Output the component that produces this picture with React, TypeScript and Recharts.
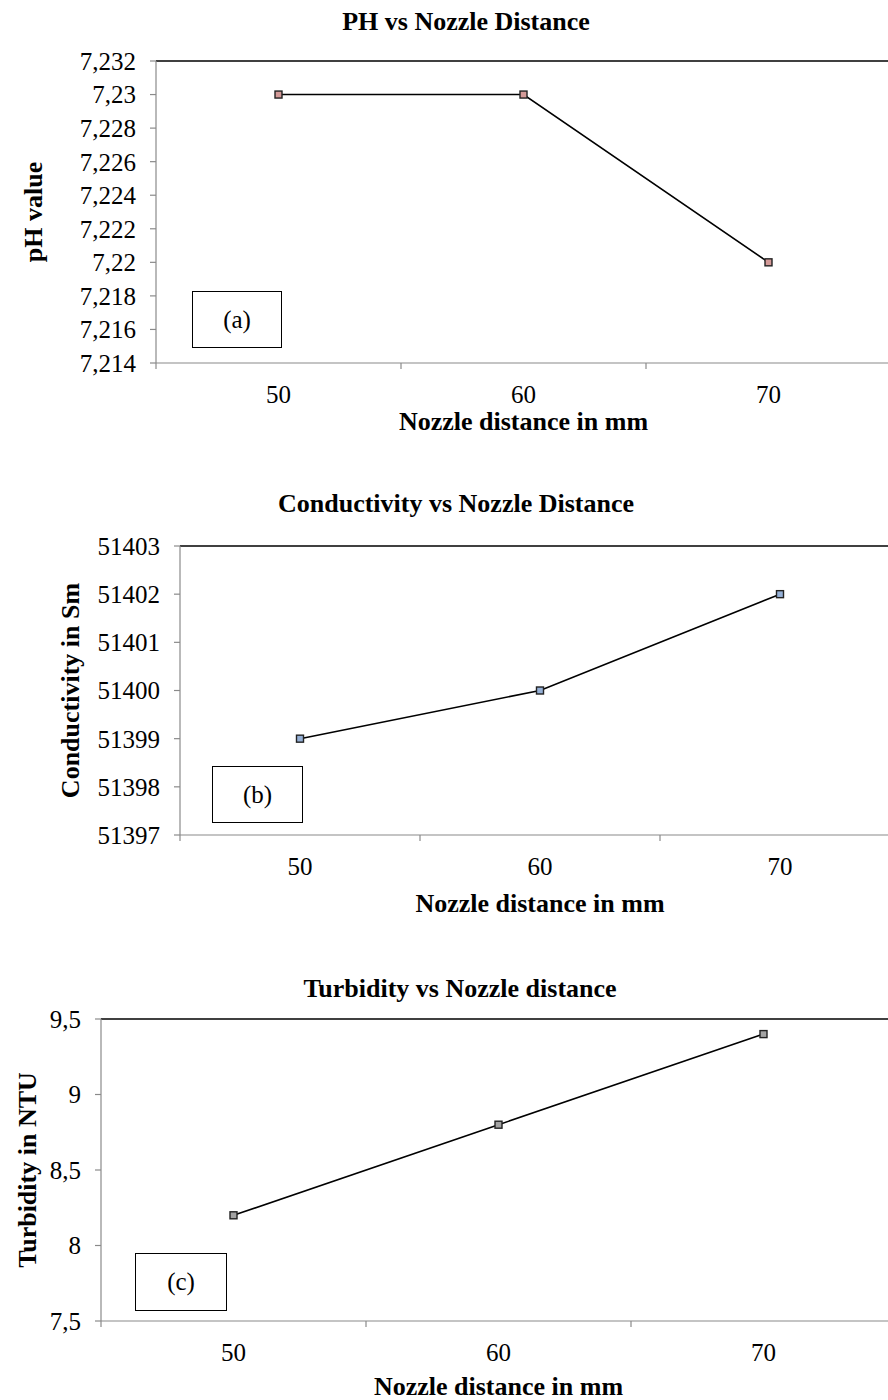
import { LineChart, Line, XAxis, YAxis, ReferenceLine, Label } from "recharts";

// values
const distances = [50, 60, 70];
const phValues = [7.23, 7.23, 7.22];
const conductivityValues = [51399, 51400, 51402];
const turbidityValues = [8.2, 8.8, 9.4];

const phTicks = [7.214, 7.216, 7.218, 7.22, 7.222, 7.224, 7.226, 7.228, 7.23, 7.232];
const conductivityTicks = [51397, 51398, 51399, 51400, 51401, 51402, 51403];
const turbidityTicks = [7.5, 8, 8.5, 9, 9.5];

// category boundaries (tick marks sit between the categories, Excel style)
const xBoundaries = [45, 55, 65, 75];
const xTicks = [...xBoundaries, ...distances].sort((a, b) => a - b);

const FONT = '"Liberation Serif", "Times New Roman", serif';
const AXIS = "#8a8a8a";

const fmt = (v: number) => String(Number(v.toFixed(3))).replace(".", ",");

function XTick(props: any) {
  const { x, y, payload } = props;
  const v = payload.value;
  if (xBoundaries.includes(v)) {
    return <line x1={x} x2={x} y1={y} y2={y + 6} stroke={AXIS} strokeWidth={1.2} />;
  }
  return (
    <text x={x} y={y + 40} textAnchor="middle" style={{ fontFamily: FONT, fontSize: 25 }} fill="#000">
      {v}
    </text>
  );
}

const squareDot = (fill: string) => (props: any) => {
  const { cx, cy, index } = props;
  return (
    <rect
      key={index}
      x={cx - 3.5}
      y={cy - 3.5}
      width={7}
      height={7}
      fill={fill}
      stroke="#222"
      strokeWidth={1.4}
    />
  );
};

interface PanelProps {
  values: number[];
  yTicks: number[];
  color: string;
  title: string;
  titleTop: number;
  titleCenter: number;
  yTitle: string;
  yTitleX: number;
  xTitleDy: number;
  top: number;
  height: number;
  marginTop: number;
  marginRight: number;
  yAxisWidth: number;
  xAxisHeight: number;
  tag: string;
  box: { left: number; top: number; width: number; height: number };
}

function Panel(p: PanelProps) {
  const data = distances.map((d, i) => ({ distance: d, value: p.values[i] }));
  const yMin = p.yTicks[0];
  const yMax = p.yTicks[p.yTicks.length - 1];
  return (
    <>
      <div
        style={{
          position: "absolute",
          left: p.titleCenter - 300,
          width: 600,
          top: p.titleTop,
          textAlign: "center",
          fontFamily: FONT,
          fontWeight: "bold",
          fontSize: 26,
          lineHeight: "26px",
          whiteSpace: "nowrap",
        }}
      >
        {p.title}
      </div>
      <div style={{ position: "absolute", left: 0, top: p.top }}>
        <LineChart
          width={900}
          height={p.height}
          data={data}
          margin={{ top: p.marginTop, right: p.marginRight, left: 0, bottom: 0 }}
        >
          <XAxis
            dataKey="distance"
            type="number"
            domain={[xBoundaries[0], xBoundaries[xBoundaries.length - 1]]}
            ticks={xTicks}
            interval={0}
            tick={<XTick />}
            tickLine={false}
            tickSize={0}
            tickMargin={0}
            height={p.xAxisHeight}
            axisLine={{ stroke: AXIS, strokeWidth: 1.2 }}
          >
            <Label
              content={(lp: any) => {
                const vb = lp.viewBox;
                return (
                  <text
                    x={vb.x + vb.width / 2}
                    y={vb.y + p.xTitleDy}
                    textAnchor="middle"
                    style={{ fontFamily: FONT, fontWeight: "bold", fontSize: 26 }}
                    fill="#000"
                  >
                    Nozzle distance in mm
                  </text>
                );
              }}
            />
          </XAxis>
          <YAxis
            type="number"
            domain={[yMin, yMax]}
            ticks={p.yTicks}
            interval={0}
            width={p.yAxisWidth}
            tickFormatter={fmt}
            tick={{ fill: "#000", style: { fontFamily: FONT, fontSize: 25 } }}
            fontSize={25}
            tickSize={6}
            tickMargin={14}
            tickLine={{ stroke: AXIS, strokeWidth: 1.2 }}
            axisLine={{ stroke: AXIS, strokeWidth: 1.2 }}
          >
            <Label
              content={(lp: any) => {
                const vb = lp.viewBox;
                const cy = vb.y + vb.height / 2;
                return (
                  <text
                    x={p.yTitleX}
                    y={cy}
                    transform={`rotate(-90, ${p.yTitleX}, ${cy})`}
                    textAnchor="middle"
                    style={{ fontFamily: FONT, fontWeight: "bold", fontSize: 26 }}
                    fill="#000"
                  >
                    {p.yTitle}
                  </text>
                );
              }}
            />
          </YAxis>
          <ReferenceLine y={yMax} stroke="#000" strokeWidth={1.4} />
          <ReferenceLine x={xBoundaries[xBoundaries.length - 1]} stroke="#000" strokeWidth={1.4} />
          <Line
            type="linear"
            dataKey="value"
            stroke="#000"
            strokeWidth={1.6}
            dot={squareDot(p.color)}
            activeDot={false}
            isAnimationActive={false}
          />
        </LineChart>
      </div>
      <div
        style={{
          position: "absolute",
          left: p.box.left,
          top: p.box.top,
          width: p.box.width,
          height: p.box.height,
          boxSizing: "border-box",
          border: "1.5px solid #000",
          background: "#fff",
          display: "flex",
          alignItems: "center",
          justifyContent: "center",
          fontFamily: FONT,
          fontSize: 25,
        }}
      >
        {p.tag}
      </div>
    </>
  );
}

export default function App() {
  return (
    <div
      style={{
        position: "absolute",
        left: 0,
        top: 0,
        width: 888,
        height: 1400,
        overflow: "hidden",
        background: "#fff",
      }}
    >
      <Panel
        values={phValues}
        yTicks={phTicks}
        color="#d49a98"
        title="PH vs Nozzle Distance"
        titleTop={9}
        titleCenter={466}
        yTitle="pH value"
        yTitleX={42}
        xTitleDy={67}
        top={0}
        height={440}
        marginTop={61}
        marginRight={9}
        yAxisWidth={156}
        xAxisHeight={77}
        tag="(a)"
        box={{ left: 192, top: 291, width: 90, height: 57 }}
      />
      <Panel
        values={conductivityValues}
        yTicks={conductivityTicks}
        color="#95b0d6"
        title="Conductivity vs Nozzle Distance"
        titleTop={491}
        titleCenter={456}
        yTitle="Conductivity in Sm"
        yTitleX={79}
        xTitleDy={77}
        top={470}
        height={470}
        marginTop={76}
        marginRight={0}
        yAxisWidth={180}
        xAxisHeight={105}
        tag="(b)"
        box={{ left: 212, top: 766, width: 91, height: 57 }}
      />
      <Panel
        values={turbidityValues}
        yTicks={turbidityTicks}
        color="#a3a3a3"
        title="Turbidity vs Nozzle distance"
        titleTop={976}
        titleCenter={460}
        yTitle="Turbidity in NTU"
        yTitleX={36}
        xTitleDy={74}
        top={940}
        height={460}
        marginTop={79}
        marginRight={4}
        yAxisWidth={101}
        xAxisHeight={79}
        tag="(c)"
        box={{ left: 135, top: 1253, width: 92, height: 58 }}
      />
    </div>
  );
}
